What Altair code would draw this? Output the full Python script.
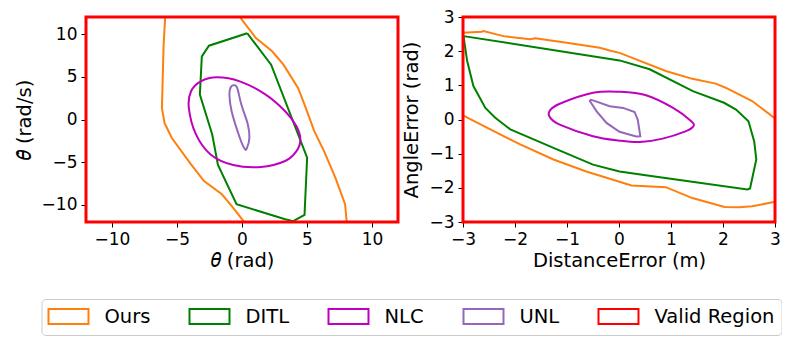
import altair as alt
import pandas as pd

# ---------------- data ----------------
methods = ["Ours", "DITL", "NLC", "UNL", "Valid Region"]
colors = ["#ff7f0e", "#008000", "#bf00bf", "#9467bd", "#ff0000"]

# Left panel: theta (rad) vs theta-dot (rad/s)
L_ours_a_x = [-5.91, -6.03, -6.16, -5.96, -5.41, -3.92, -2.92, -1.55, -0.80, 0.12]
L_ours_a_y = [12.0, 8.75, 1.36, -0.40, -2.14, -5.25, -7.20, -8.75, -10.1, -11.9]
L_ours_b_x = [-0.17, 1.07, 2.32, 3.19, 4.31, 4.81, 5.56, 6.31, 7.18, 7.93, 8.05]
L_ours_b_y = [12.0, 9.53, 7.98, 6.42, 3.70, 1.75, -1.36, -3.70, -6.80, -9.92, -11.9]

L_ditl_x = [0.40, -2.54, -3.09, -3.24, -2.29, -1.85, -0.42, 3.32, 3.94, 4.81, 5.01, 2.24, 0.40]
L_ditl_y = [10.1, 8.64, 7.39, 2.92, -1.75, -5.33, -9.92, -11.67, -11.9, -11.17, -4.47, 6.42, 10.1]

L_nlc_x = [-1.92, -0.17, 1.82, 3.32, 4.19, 4.49, 4.19, 3.32, 1.45, -0.67, -2.42, -3.54, -4.09, -3.92, -3.17]
L_nlc_y = [4.94, 4.47, 2.92, 0.97, -0.78, -2.33, -3.70, -4.86, -5.56, -5.33, -4.09, -1.75, 1.36, 3.31, 4.47]

L_unl_x = [-0.62, -0.37, -0.05, 0.45, 0.57, 0.37, 0.20, -0.17, -0.80, -0.97, -0.87]
L_unl_y = [4.00, 3.70, 1.75, -0.58, -2.14, -3.39, -3.42, -2.14, 0.97, 2.92, 3.77]

# Right panel: DistanceError (m) vs AngleError (rad)
R_ours_a_x = [-3.0, -2.64, -2.61, -2.22, -1.71, -1.61, -0.94, -0.37, -0.18, 0.01, 0.33, 0.90, 1.41, 1.86, 2.05, 2.56, 3.0]
R_ours_a_y = [2.54, 2.57, 2.59, 2.44, 2.35, 2.38, 2.23, 2.10, 2.02, 1.95, 1.76, 1.42, 1.19, 1.05, 0.93, 0.54, 0.03]
R_ours_b_x = [-3.0, -2.54, -1.90, -1.26, -0.63, 0.24, 0.90, 1.41, 2.03, 2.31, 2.56, 3.0]
R_ours_b_y = [0.12, -0.24, -0.73, -1.17, -1.52, -1.93, -1.98, -2.30, -2.56, -2.57, -2.54, -2.41]

R_ditl_x = [-2.99, -2.92, -2.80, -2.57, -2.38, -2.09, -1.26, -0.50, 0.01, 0.65, 2.47, 2.52, 2.64, 2.60, 2.49, 2.25, 2.02, 1.42, 0.59, 0.01, -2.99]
R_ditl_y = [2.44, 1.71, 0.98, 0.34, 0.05, -0.29, -0.83, -1.32, -1.52, -1.66, -2.05, -2.02, -1.17, -0.64, -0.05, 0.29, 0.49, 0.83, 1.47, 1.73, 2.44]

R_nlc_x = [0.01, -0.50, -1.14, -1.33, -1.33, -1.14, -0.50, 0.01, 0.40, 0.84, 1.29, 1.43, 1.39, 1.04, 0.52]
R_nlc_y = [0.81, 0.78, 0.46, 0.26, 0.07, -0.15, -0.49, -0.62, -0.66, -0.56, -0.34, -0.20, -0.05, 0.34, 0.71]

R_unl_x = [-0.56, -0.50, -0.18, 0.08, 0.30, 0.36, 0.40, 0.41, 0.33, 0.01, -0.24, -0.43, -0.56, -0.56]
R_unl_y = [0.58, 0.56, 0.39, 0.34, 0.22, 0.00, -0.39, -0.49, -0.50, -0.36, -0.10, 0.24, 0.54, 0.58]

L_lim = [-12, 12]
R_lim = [-3, 3]
L_ticks = [-10, -5, 0, 5, 10]
R_ticks = [-3, -2, -1, 0, 1, 2, 3]

FONT = "DejaVu Sans"


def lines_df(series):
    rows = []
    for method, seg, smooth, xs, ys in series:
        for i, (x, y) in enumerate(zip(xs, ys)):
            rows.append({"method": method, "seg": seg, "smooth": smooth, "i": i, "x": x, "y": y})
    return pd.DataFrame(rows)


left_df = lines_df([
    ("Ours", "a", False, L_ours_a_x, L_ours_a_y),
    ("Ours", "b", False, L_ours_b_x, L_ours_b_y),
    ("DITL", "c", False, L_ditl_x, L_ditl_y),
    ("NLC", "d", True, L_nlc_x, L_nlc_y),
    ("UNL", "e", True, L_unl_x, L_unl_y),
])
right_df = lines_df([
    ("Ours", "a", False, R_ours_a_x, R_ours_a_y),
    ("Ours", "b", False, R_ours_b_x, R_ours_b_y),
    ("DITL", "c", False, R_ditl_x, R_ditl_y),
    ("NLC", "d", True, R_nlc_x, R_nlc_y),
    ("UNL", "e", False, R_unl_x, R_unl_y),
])

color_scale = alt.Scale(domain=methods, range=colors)
# wide open rectangle swatch (symbol radius 9.5 -> 40 x 15 px), left-anchored
legend = alt.Legend(
    orient="none", legendX=-44.5, legendY=282, direction="horizontal", columns=5,
    columnPadding=35, title=None,
    symbolType="M-1.105,-0.789H3.105V0.789H-1.105Z", symbolSize=361, symbolStrokeWidth=2,
    labelFont=FONT, labelFontSize=19.5, labelColor="black", labelOffset=35,
    padding=7, strokeColor="#cccccc", cornerRadius=4, fillColor="white",
)


def panel(df, lim, ticks, xtitle, ytitle):
    xs = alt.Scale(domain=lim, nice=False, zero=False)
    ys = alt.Scale(domain=lim, nice=False, zero=False)
    xaxis = alt.Axis(values=ticks, title=xtitle, grid=False, labelOverlap=False)
    yaxis = alt.Axis(values=ticks, title=ytitle, grid=False, labelOverlap=False)
    enc = dict(
        x=alt.X("x:Q", scale=xs, axis=xaxis),
        y=alt.Y("y:Q", scale=ys, axis=yaxis),
        color=alt.Color("method:N", scale=color_scale, legend=legend, sort=methods),
        detail="seg:N",
        order="i:Q",
    )
    base = alt.Chart(df)
    straight = base.transform_filter("!datum.smooth").mark_line(
        strokeWidth=2, clip=True).encode(**enc)
    smooth = base.transform_filter("datum.smooth").mark_line(
        strokeWidth=2, clip=True, interpolate="cardinal-closed").encode(**enc)
    region = pd.DataFrame({"x": [lim[0]], "x2": [lim[1]], "y": [lim[0]], "y2": [lim[1]],
                           "method": ["Valid Region"]})
    rect = alt.Chart(region).mark_rect(filled=False, strokeWidth=3).encode(
        x=alt.X("x:Q", scale=xs, axis=xaxis), x2="x2:Q",
        y=alt.Y("y:Q", scale=ys, axis=yaxis), y2="y2:Q",
        color=alt.Color("method:N", scale=color_scale, legend=legend, sort=methods),
    )
    return alt.layer(straight, smooth, rect).properties(width=312, height=205)


left = panel(left_df, L_lim, L_ticks, "𝜃 (rad)", "𝜃̇ (rad/s)")
right = panel(right_df, R_lim, R_ticks, "DistanceError (m)", "AngleError (rad)")

chart = alt.hconcat(left, right, spacing=65, bounds="flush").properties(
    padding={"left": 6, "top": 0, "right": 0, "bottom": 0}
).configure_view(stroke=None).configure_axis(
    labelFont=FONT, labelFontSize=17, labelColor="black",
    titleFont=FONT, titleFontSize=19.5, titleFontWeight="normal", titleColor="black",
    domainColor="black", domainWidth=1, tickColor="black", tickSize=5, tickWidth=1,
    labelPadding=4, titlePadding=7, labelFlush=False, labelOverlap=False,
).configure_axisX(titlePadding=4)

chart.save("out.html", embed_options={"renderer": "svg", "actions": False})
